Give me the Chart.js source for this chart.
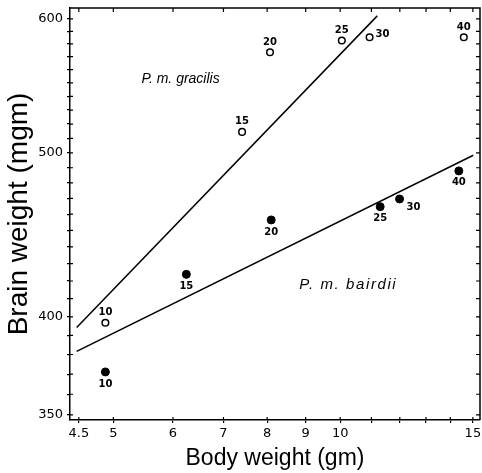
<!DOCTYPE html>
<html><head><meta charset="utf-8">
<script src="https://cdn.jsdelivr.net/npm/chart.js@4/dist/chart.umd.min.js"></script>
<style>html,body{margin:0;padding:0;background:#fff}#wrap{width:482px;height:473px;position:relative}</style>
</head><body><div id="wrap"><canvas id="c" width="482" height="473"></canvas></div>
<script>
// ---- data ----
const ages = [10, 15, 20, 25, 30, 40];
const gracilisBody  = [4.88, 7.41, 8.07, 10.05, 10.94, 14.59];
const gracilisBrain = [396.8, 514.5, 573.4, 582.6, 585.2, 585.2];
const bairdiiBody   = [4.88, 6.25, 8.10, 11.30, 11.99, 14.37];
const bairdiiBrain  = [371.1, 423.8, 456.4, 464.7, 469.6, 487.9];
const gracilisFitBody  = [4.47, 11.2];
const gracilisFitBrain = [394.2, 602.5];
const bairdiiFitBody   = [4.47, 15.02];
const bairdiiFitBrain  = [381.6, 498.4];
const xTickValues = [4.5, 5, 6, 7, 8, 9, 10, 11, 12, 13, 14, 15];
const xTickLabels = ['4.5', '5', '6', '7', '8', '9', '10', '', '', '', '', '15'];
const yTickValues = [350, 360, 370, 380, 390, 400, 410, 420, 430, 440, 450, 460, 470, 480, 490, 500, 510, 520, 530, 540, 550, 560, 570, 580, 590, 600];
const yTickLabels = {350: '350', 400: '400', 500: '500', 600: '600'};
const seriesNames = ['P. m. gracilis', 'P. m. bairdii'];
const seriesNameAt = [[6.14, 553], [10.25, 418]];

const pts = (xs, ys) => xs.map((v, i) => ({x: v, y: ys[i]}));

const frame = {
  id: 'frame',
  afterDraw(chart) {
    const {ctx, chartArea: a, scales: {x, y}} = chart;
    ctx.save();
    ctx.strokeStyle = '#000';
    ctx.lineWidth = 1.5;
    ctx.beginPath();
    ctx.moveTo(a.left, a.top); ctx.lineTo(a.right, a.top); ctx.lineTo(a.right, a.bottom);
    ctx.stroke();
    ctx.lineWidth = 1.2;
    ctx.beginPath();
    x.ticks.forEach(t => {
      const px = x.getPixelForValue(t.value);
      ctx.moveTo(px, a.bottom); ctx.lineTo(px, a.bottom - 3);
      ctx.moveTo(px, a.top); ctx.lineTo(px, a.top + 4);
    });
    y.ticks.forEach(t => {
      const py = y.getPixelForValue(t.value);
      ctx.moveTo(a.left, py); ctx.lineTo(a.left + 3, py);
      ctx.moveTo(a.right, py); ctx.lineTo(a.right - 4, py);
    });
    ctx.stroke();
    // series names
    ctx.fillStyle = '#000';
    ctx.textAlign = 'center';
    ctx.textBaseline = 'middle';
    ctx.font = 'italic 14px "Liberation Sans"';
    ctx.fillText(seriesNames[0], x.getPixelForValue(seriesNameAt[0][0]), y.getPixelForValue(seriesNameAt[0][1]));
    ctx.font = 'italic 15px "Liberation Sans"';
    ctx.letterSpacing = '1.6px';
    ctx.fillText(seriesNames[1], x.getPixelForValue(seriesNameAt[1][0]), y.getPixelForValue(seriesNameAt[1][1]));
    ctx.letterSpacing = '0px';
    // age labels
    ctx.font = 'bold 10px "DejaVu Sans"';
    const m0 = chart.getDatasetMeta(0), m1 = chart.getDatasetMeta(1);
    ages.forEach((age, i) => {
      const p = m0.data[i];
      if (age === 30) { ctx.textAlign = 'left'; ctx.fillText(String(age), p.x + 6, p.y - 3); }
      else { ctx.textAlign = 'center'; ctx.fillText(String(age), p.x, p.y - 10); }
      const q = m1.data[i];
      if (age === 30) { ctx.textAlign = 'left'; ctx.fillText(String(age), q.x + 7, q.y + 8); }
      else { ctx.textAlign = 'center'; ctx.fillText(String(age), q.x, q.y + 12); }
    });
    ctx.restore();
  }
};

new Chart(document.getElementById('c'), {
  type: 'scatter',
  data: {
    datasets: [
      {label: 'P. m. gracilis', data: pts(gracilisBody, gracilisBrain), pointRadius: 3.3, pointBorderWidth: 1.5,
       pointBackgroundColor: '#fff', pointBorderColor: '#000', showLine: false, clip: false},
      {label: 'P. m. bairdii', data: pts(bairdiiBody, bairdiiBrain), pointRadius: 4, pointBorderWidth: 1,
       pointBackgroundColor: '#000', pointBorderColor: '#000', showLine: false, clip: false},
      {label: 'gracilis fit', data: pts(gracilisFitBody, gracilisFitBrain), showLine: true, pointRadius: 0,
       borderColor: '#000', borderWidth: 1.5, fill: false},
      {label: 'bairdii fit', data: pts(bairdiiFitBody, bairdiiFitBrain), showLine: true, pointRadius: 0,
       borderColor: '#000', borderWidth: 1.5, fill: false}
    ]
  },
  options: {
    responsive: false,
    animation: false,
    devicePixelRatio: 1,
    layout: {autoPadding: false, padding: {left: 0, right: 2, top: 8, bottom: 0}},
    plugins: {legend: {display: false}, tooltip: {enabled: false}},
    scales: {
      x: {
        type: 'logarithmic', min: 4.38, max: 15.33,
        afterBuildTicks: s => { s.ticks = xTickValues.map(v => ({value: v})); },
        afterFit: s => { s.height = 53; s.paddingLeft = 0; s.paddingRight = 0; },
        ticks: {autoSkip: false, maxRotation: 0, padding: 3, color: '#000',
                font: {family: '"DejaVu Sans"', size: 13},
                callback: (v, i) => xTickLabels[i]},
        grid: {drawOnChartArea: false, tickLength: 3, color: '#000', lineWidth: 1.2},
        border: {color: '#000', width: 1.5},
        title: {display: true, text: 'Body weight (gm)', color: '#000',
                font: {family: '"Liberation Sans"', size: 23}, padding: {top: 0, bottom: 1}}
      },
      y: {
        type: 'logarithmic', min: 347.6, max: 609,
        afterBuildTicks: s => { s.ticks = yTickValues.map(v => ({value: v})); },
        afterFit: s => { s.width = 70; s.paddingTop = 0; s.paddingBottom = 0; },
        ticks: {autoSkip: false, padding: 4, color: '#000',
                font: {family: '"DejaVu Sans"', size: 13},
                callback: (v, i) => yTickLabels[yTickValues[i]] || ''},
        grid: {drawOnChartArea: false, tickLength: 3, color: '#000', lineWidth: 1.2},
        border: {color: '#000', width: 1.5},
        title: {display: true, text: 'Brain weight (mgm)', color: '#000',
                font: {family: '"Liberation Sans"', size: 28}, padding: {top: 2, bottom: 0}}
      }
    }
  },
  plugins: [frame]
});
</script></body></html>
